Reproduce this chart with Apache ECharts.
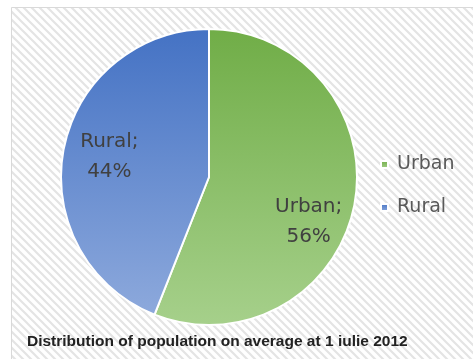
<!DOCTYPE html>
<html>
<head>
<meta charset="utf-8">
<script src="https://cdn.jsdelivr.net/npm/echarts@6/dist/echarts.min.js"></script>
<style>
html,body{margin:0;padding:0;background:#fff;}
#c{width:473px;height:359px;}
</style>
</head>
<body>
<div id="c"></div>
<script>
const categories = ['Urban', 'Rural'];
const shares = [56, 44];
const titleText = 'Distribution of population on average at 1 iulie 2012';

const topColors = ['#70AD47', '#4472C4'];
const bottomColors = ['#A6D08B', '#8DA9DC'];
const labelOffsets = [[24, 30], [-24, -6]];

function hatch() {
  const s = 8;
  const c = document.createElement('canvas');
  c.width = s; c.height = s;
  const g = c.getContext('2d');
  g.fillStyle = '#ffffff';
  g.fillRect(0, 0, s, s);
  g.strokeStyle = '#e4e4e4';
  g.lineWidth = 2.2;
  g.beginPath();
  g.moveTo(-2, -2); g.lineTo(s + 2, s + 2);
  g.moveTo(-2 - s, -2); g.lineTo(2, s + 2);
  g.moveTo(s - 2, -2); g.lineTo(2 * s + 2, s + 2);
  g.stroke();
  return c;
}

const chart = echarts.init(document.getElementById('c'), null, {renderer: 'canvas'});
chart.setOption({
  backgroundColor: '#ffffff',
  animation: false,
  graphic: [{
    type: 'rect',
    z: -10,
    silent: true,
    shape: {x: 11.5, y: 7.5, width: 470, height: 360},
    style: {fill: {image: hatch(), repeat: 'repeat'}, stroke: '#d9d9d9', lineWidth: 1}
  }],
  title: {
    text: titleText,
    left: 22,
    top: 329,
    textStyle: {fontFamily: 'Liberation Sans', fontWeight: 'bold', fontSize: 15.5, color: '#222222'}
  },
  legend: {
    orient: 'vertical',
    left: 375,
    top: 150,
    itemWidth: 7,
    itemHeight: 7,
    itemGap: 24,
    icon: 'rect',
    textStyle: {fontFamily: 'DejaVu Sans', fontSize: 19, color: '#595959', padding: [0, 0, 0, 4]},
    data: categories
  },
  series: [{
    type: 'pie',
    center: [209, 177],
    radius: 148,
    startAngle: 90,
    clockwise: true,
    itemStyle: {borderColor: '#ffffff', borderWidth: 2},
    label: {
      position: 'inside',
      formatter: '{b};\n{c}%',
      fontFamily: 'DejaVu Sans',
      fontSize: 20,
      lineHeight: 30,
      color: '#404040'
    },
    labelLayout: function (p) {
      const o = labelOffsets[p.dataIndex];
      return {dx: o[0], dy: o[1]};
    },
    emphasis: {disabled: true},
    data: categories.map(function (name, i) {
      return {
        name: name,
        value: shares[i],
        itemStyle: {
          color: new echarts.graphic.LinearGradient(0, 0, 0, 1, [
            {offset: 0, color: topColors[i]},
            {offset: 1, color: bottomColors[i]}
          ])
        }
      };
    })
  }]
});
</script>
</body>
</html>
